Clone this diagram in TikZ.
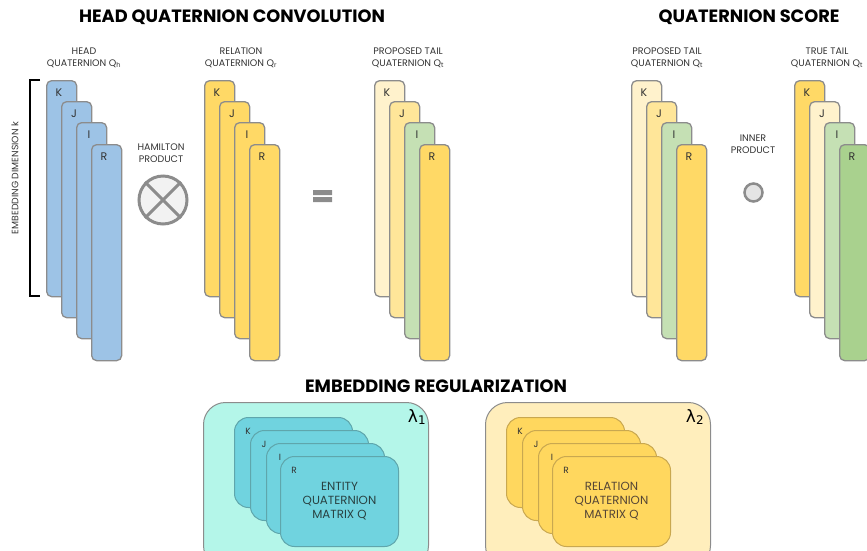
\documentclass[tikz,border=0pt]{standalone}
\usepackage{fontspec}
\setmainfont{Poppins}
\newfontfamily\greekfont{DejaVu Sans}
\usetikzlibrary{positioning}

\definecolor{qblue}{HTML}{9DC3E6}
\definecolor{qyellow}{HTML}{FFD966}
\definecolor{qcream}{HTML}{FFF2CC}
\definecolor{qsand}{HTML}{FFE699}
\definecolor{qsage}{HTML}{C5E0B4}
\definecolor{qgreen}{HTML}{A9D18E}
\definecolor{qedge}{HTML}{8C8C8C}
\definecolor{qmist}{HTML}{F2F2F2}
\definecolor{qfog}{HTML}{E4E4E4}
\definecolor{qaqua}{HTML}{B4F6E9}
\definecolor{qteal}{HTML}{70D3DF}
\definecolor{qtealline}{HTML}{5FA6AC}
\definecolor{qwheat}{HTML}{FFEEBC}
\definecolor{qgold}{HTML}{FFD75E}
\definecolor{qgoldline}{HTML}{C9A850}
\definecolor{qtext}{HTML}{333333}

\begin{document}
\begin{tikzpicture}[
  x=1pt, y=-1pt,
  qbar/.style={draw=qedge, line width=1.3pt, rounded corners=5pt, minimum width=30pt, minimum height=216pt, anchor=north west, inner sep=0pt},
  letter/.style={anchor=center, xshift=13pt, yshift=-13pt, font=\fontsize{11}{12}\selectfont, text=qtext},
  stacklab/.style={align=center, font=\fontsize{9.5}{11.5}\selectfont, text=qtext},
  ttl/.style={font=\fontsize{17.8}{20}\selectfont\bfseries},
  pocket/.style={draw=qedge, line width=1pt, rounded corners=22pt, minimum width=225pt, minimum height=165pt, anchor=north west, inner sep=0pt},
  card/.style={line width=1pt, rounded corners=14pt, minimum width=118pt, minimum height=90pt, anchor=north west, inner sep=0pt, align=center, font=\fontsize{11.8}{14}\selectfont},
  cardletter/.style={anchor=center, xshift=14pt, yshift=-14pt, font=\fontsize{9}{10}\selectfont, text=qtext},
  lam/.style={font=\fontsize{17}{17}\greekfont}
]
\useasboundingbox (0,0) rectangle (867,550);
\clip (0,0) rectangle (867,550);

% section titles
\node[ttl] (convtitle) at (232,17) {HEAD QUATERNION CONVOLUTION};
\node[ttl] (scoretitle) at (749,17) {QUATERNION SCORE};
\node[ttl] (regtitle) at (436,386) {EMBEDDING REGULARIZATION};

% embedding dimension bracket
\draw[line width=2.5pt] (40,80) -- (30,80) -- (30,296) -- (40,296);
\node[stacklab, rotate=90, font=\fontsize{9.3}{11}\selectfont] (dimlab) at (15,178) {EMBEDDING DIMENSION k};

% head quaternion
\node[stacklab] (hlab) at (84,58) {HEAD\\QUATERNION Q\textsubscript{h}};
\node[qbar, fill=qblue, label={[letter]north west:K}] (hk) at (46,80) {};
\node[qbar, fill=qblue, label={[letter]north west:J}] (hj) at (61,101) {};
\node[qbar, fill=qblue, label={[letter]north west:I}] (hi) at (76,122) {};
\node[qbar, fill=qblue, label={[letter]north west:R}] (hr) at (91,144) {};

% hamilton product
\node[stacklab] (hamlab) at (161,153) {HAMILTON\\PRODUCT};
\node[circle, draw=qedge, line width=3pt, fill=qmist, minimum size=48pt, inner sep=0pt] (ham) at (163,200) {};
\draw[qedge, line width=3pt] (ham.north west) -- (ham.south east) (ham.north east) -- (ham.south west);

% relation quaternion
\node[stacklab] (rlab) at (241,58) {RELATION\\QUATERNION Q\textsubscript{r}};
\node[qbar, fill=qyellow, label={[letter]north west:K}] (rk) at (204,80) {};
\node[qbar, fill=qyellow, label={[letter]north west:J}] (rj) at (219,101) {};
\node[qbar, fill=qyellow, label={[letter]north west:I}] (ri) at (234,122) {};
\node[qbar, fill=qyellow, label={[letter]north west:R}] (rr) at (249,144) {};

% equals
\fill[qedge] (313,190) rectangle (332,195) (313,197) rectangle (332,202);

% proposed tail
\node[stacklab] (plab) at (408,58) {PROPOSED TAIL\\QUATERNION Q\textsubscript{t}};
\node[qbar, fill=qcream, label={[letter]north west:K}] (pk) at (374,80) {};
\node[qbar, fill=qsand, label={[letter]north west:J}] (pj) at (389,101) {};
\node[qbar, fill=qsage, label={[letter]north west:I}] (pi) at (404,122) {};
\node[qbar, fill=qyellow, label={[letter]north west:R}] (pr) at (419,144) {};

% score: proposed tail
\node[stacklab] (slab) at (667,58) {PROPOSED TAIL\\QUATERNION Q\textsubscript{t}};
\node[qbar, fill=qcream, label={[letter]north west:K}] (sk) at (631,80) {};
\node[qbar, fill=qsand, label={[letter]north west:J}] (sj) at (646,101) {};
\node[qbar, fill=qsage, label={[letter]north west:I}] (si) at (661,122) {};
\node[qbar, fill=qyellow, label={[letter]north west:R}] (sr) at (676,144) {};

% inner product
\node[stacklab] (innlab) at (753,144) {INNER\\PRODUCT};
\node[circle, draw=qedge, line width=2.5pt, fill=qfog, minimum size=18pt, inner sep=0pt] (dot) at (753.5,192.5) {};

% score: true tail
\node[stacklab] (tlab) at (827,58) {TRUE TAIL\\QUATERNION Q\textsubscript{t}};
\node[qbar, fill=qyellow, label={[letter]north west:K}] (tk) at (794,80) {};
\node[qbar, fill=qcream, label={[letter]north west:J}] (tj) at (809,101) {};
\node[qbar, fill=qsage, label={[letter]north west:I}] (ti) at (824,122) {};
\node[qbar, fill=qgreen, label={[letter]north west:R}] (tr) at (839,144) {};

% regularization: entity matrix
\node[pocket, fill=qaqua] (ebox) at (203,402) {};
\node[lam] (elam) at (417,417) {λ\textsubscript{1}};
\node[card, fill=qteal, draw=qtealline, label={[cardletter]north west:K}] (ek) at (234,417) {};
\node[card, fill=qteal, draw=qtealline, label={[cardletter]north west:J}] (ej) at (250,430) {};
\node[card, fill=qteal, draw=qtealline, label={[cardletter]north west:I}] (ei) at (266,443) {};
\node[card, fill=qteal, draw=qtealline, text=qtext!80!teal, label={[cardletter]north west:R}] (er) at (280,456) {ENTITY\\QUATERNION\\MATRIX Q};

% regularization: relation matrix
\node[pocket, fill=qwheat] (rbox) at (485,402) {};
\node[lam] (rlam) at (695,417) {λ\textsubscript{2}};
\node[card, fill=qgold, draw=qgoldline, label={[cardletter]north west:K}] (mk) at (506,417) {};
\node[card, fill=qgold, draw=qgoldline, label={[cardletter]north west:J}] (mj) at (522,430) {};
\node[card, fill=qgold, draw=qgoldline, label={[cardletter]north west:I}] (mi) at (538,443) {};
\node[card, fill=qgold, draw=qgoldline, text=qtext!75!brown, label={[cardletter]north west:R}] (mr) at (552,456) {RELATION\\QUATERNION\\MATRIX Q};
\end{tikzpicture}
\end{document}
